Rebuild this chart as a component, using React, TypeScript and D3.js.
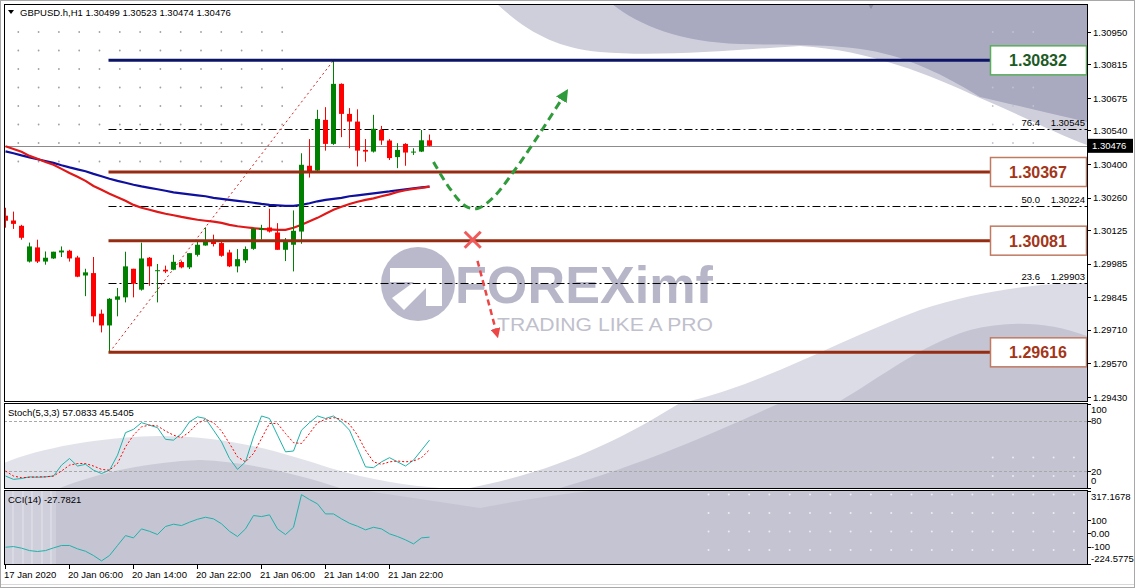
import React from 'react';
import * as d3 from 'd3';

const W = 1135;
const H = 588;

// GBPUSD H1 bars
const opens = [
  1.30185, 1.30165, 1.30143, 1.29994, 1.30053, 1.29994, 1.30007, 1.30032, 1.30039, 1.30011,
  1.29936, 1.29946, 1.29777, 1.29728, 1.29835, 1.29845, 1.29964, 1.29877, 1.30010, 1.29957,
  1.29960, 1.29960, 1.29992, 1.29970, 1.30022, 1.30061, 1.30085, 1.30071, 1.30032, 1.29974,
  1.29999, 1.30047, 1.30126, 1.30136, 1.30115, 1.30043, 1.30064, 1.30119, 1.30393, 1.30373,
  1.30584, 1.30484, 1.30734, 1.30609, 1.30577, 1.30459, 1.30452, 1.30542, 1.30498, 1.30429,
  1.30484, 1.30448, 1.30452, 1.30499,
];
const highs = [
  1.30218, 1.30202, 1.30147, 1.30073, 1.30085, 1.30036, 1.30035, 1.30057, 1.30043, 1.30018,
  1.29964, 1.30013, 1.29794, 1.29842, 1.29884, 1.30035, 1.29964, 1.30073, 1.30013, 1.29984,
  1.29977, 1.30022, 1.29998, 1.30029, 1.30077, 1.30136, 1.30106, 1.30081, 1.30043, 1.30046,
  1.30057, 1.30133, 1.30147, 1.30214, 1.30154, 1.30092, 1.30207, 1.30445, 1.30504, 1.30626,
  1.30637, 1.30832, 1.30736, 1.30633, 1.30628, 1.30504, 1.30605, 1.30559, 1.30504, 1.30487,
  1.30487, 1.30466, 1.30542, 1.30523,
];
const lows = [
  1.30135, 1.30130, 1.30085, 1.29990, 1.29988, 1.29981, 1.30005, 1.30013, 1.29994, 1.29929,
  1.29850, 1.29741, 1.29699, 1.29616, 1.29766, 1.29824, 1.29845, 1.29873, 1.29893, 1.29824,
  1.29946, 1.29958, 1.29966, 1.29963, 1.30015, 1.30060, 1.30057, 1.30014, 1.29971, 1.29949,
  1.29988, 1.30043, 1.30085, 1.30115, 1.30043, 1.29996, 1.29953, 1.30068, 1.30344, 1.30370,
  1.30456, 1.30480, 1.30512, 1.30466, 1.30390, 1.30410, 1.30448, 1.30480, 1.30417, 1.30383,
  1.30393, 1.30438, 1.30450, 1.30474,
];
const closes = [
  1.30164, 1.30151, 1.30093, 1.30057, 1.29994, 1.30010, 1.30035, 1.30040, 1.30007, 1.29931,
  1.29949, 1.29766, 1.29728, 1.29839, 1.29849, 1.29974, 1.29902, 1.30007, 1.29974, 1.29958,
  1.29953, 1.29993, 1.29970, 1.30029, 1.30064, 1.30078, 1.30067, 1.30018, 1.29974, 1.30004,
  1.30046, 1.30130, 1.30133, 1.30119, 1.30043, 1.30081, 1.30122, 1.30397, 1.30365, 1.30588,
  1.30484, 1.30734, 1.30609, 1.30577, 1.30456, 1.30452, 1.30547, 1.30498, 1.30425, 1.30459,
  1.30448, 1.30452, 1.30499, 1.30476,
];

const maRed = [
  1.30474, 1.30463, 1.30451, 1.30434, 1.30422, 1.30409, 1.30397, 1.30380, 1.30363, 1.30347,
  1.30330, 1.30309, 1.30293, 1.30276, 1.30262, 1.30247, 1.30230, 1.30218, 1.30210, 1.30201,
  1.30193, 1.30187, 1.30180, 1.30174, 1.30168, 1.30164, 1.30160, 1.30155, 1.30147, 1.30141,
  1.30137, 1.30133, 1.30130, 1.30128, 1.30126, 1.30126, 1.30135, 1.30147, 1.30162, 1.30176,
  1.30193, 1.30210, 1.30222, 1.30234, 1.30243, 1.30251, 1.30257, 1.30266, 1.30274, 1.30284,
  1.30291, 1.30297, 1.30301, 1.30306,
];
const maBlue = [
  1.30453, 1.30445, 1.30436, 1.30428, 1.30420, 1.30413, 1.30405, 1.30395, 1.30386, 1.30378,
  1.30370, 1.30359, 1.30349, 1.30339, 1.30330, 1.30322, 1.30314, 1.30307, 1.30301, 1.30295,
  1.30289, 1.30282, 1.30278, 1.30274, 1.30270, 1.30266, 1.30259, 1.30255, 1.30251, 1.30247,
  1.30243, 1.30239, 1.30234, 1.30230, 1.30228, 1.30226, 1.30226, 1.30230, 1.30237, 1.30245,
  1.30251, 1.30255, 1.30259, 1.30266, 1.30270, 1.30274, 1.30278, 1.30282, 1.30286, 1.30291,
  1.30295, 1.30299, 1.30303, 1.30306,
];

const stochMain = [
  14, 10, 11, 13, 12.5, 13, 14, 27, 35, 26, 28, 21, 17, 21, 39, 66, 70, 78, 75, 72,
  58, 57, 65, 79, 85, 83, 69, 55, 35, 22, 31, 61, 86, 83, 63, 43, 44, 69, 78, 86,
  83, 86, 79, 69, 47, 25, 24, 31, 36, 31, 26, 33, 45, 57.08,
];
const stochSignal = [
  20, 14, 12, 12.5, 13, 13, 14, 20, 27, 29, 29, 26, 22, 21, 29, 49, 63, 73, 75, 74,
  68, 63, 60, 67, 77, 82, 78, 68, 53, 37, 31, 41, 59, 77, 77, 65, 54, 53, 65, 78,
  82, 84, 82, 76, 63, 45, 31, 28, 31, 32, 31, 32, 36, 45.54,
];
const cci = [
  -103, -98, -110, -128, -135, -128, -108, -90, -90, -115, -133, -165, -205, -165, -90, -16, -33, 34, 16, -8,
  52, 69, 59, 84, 106, 121, 109, 72, 16, -23, 34, 134, 126, 139, 34, -8, 46, 290, 253, 221,
  146, 146, 109, 76, 54, 27, 46, 34, -3, -23, -48, -78, -33, -27.78,
];

const timeLabels = ['17 Jan 2020', '20 Jan 06:00', '20 Jan 14:00', '20 Jan 22:00', '21 Jan 06:00', '21 Jan 14:00', '21 Jan 22:00'];
const timeLabelBars = [0, 8, 16, 24, 32, 40, 48];
const priceTicks = [1.3095, 1.30815, 1.30675, 1.3054, 1.304, 1.3026, 1.30125, 1.29985, 1.29845, 1.2971, 1.2957, 1.2943];
const srLevels = [1.30832, 1.30367, 1.30081, 1.29616];
const fibLevels = [1.30545, 1.30224, 1.29903];
const fibNames = ['76.4', '50.0', '23.6'];
const stochTicks = [100, 80, 20, 0];
const cciMax = 317.1678;
const cciMin = -224.5775;
const cciTicks = [cciMax, 100, 0, -100, cciMin];
const cciTickLabels = ['317.1678', '100', '0.00', '-100', '-224.5775'];

// scenario drawing, in (bar, price)
const upPath: [number, number][] = [
  [53.5, 1.30409], [55.5, 1.303], [57.5, 1.30225], [59, 1.30215], [61, 1.30262],
  [63.5, 1.30368], [66, 1.30488], [69.9, 1.3069],
];
const downPath: [number, number][] = [[59, 1.29997], [61.4, 1.29695]];
const crossAt: [number, number] = [58.4, 1.30085];
const fibFrom: [number, number] = [13, 1.29616];
const fibTo: [number, number] = [41, 1.30832];

const FONT = '"Liberation Sans", Arial, sans-serif';
const L = 4;
const R = 1087;
const main = { top: 4, bottom: 401 };
const stp = { top: 403, bottom: 488 };
const ccp = { top: 490, bottom: 564 };

const x = d3.scaleLinear().domain([0, 53]).range([5.5, 429.5]);
const y = d3.scaleLinear().domain([1.2943, 1.3095]).range([397, 32]);
const yS = d3.scaleLinear().domain([0, 100]).range([487.7, 404.3]);
const yC = d3.scaleLinear().domain([cciMin, cciMax]).range([563.5, 491]);

const priceLine = d3.line<number>().x((_, i) => x(i)).y((d) => y(d));
const stochLine = d3.line<number>().x((_, i) => x(i)).y((d) => yS(d));
const cciLine = d3.line<number>().x((_, i) => x(i)).y((d) => yC(d));
const arrowLine = d3.line<[number, number]>().x((d) => x(d[0])).y((d) => y(d[1])).curve(d3.curveCatmullRom);

const gridX = d3.range(0, 53).map((k) => 18.3 + 20.3 * k);
const gridY = d3.range(0, 29).map((j) => 32 + 18.5 * j);
function dots(x0: number, x1: number, y0: number, y1: number) {
  const out: [number, number][] = [];
  gridX.filter((v) => v >= x0 && v <= x1).forEach((gx) =>
    gridY.filter((v) => v >= y0 && v <= y1).forEach((gy) => out.push([gx, gy])));
  return out;
}

export default function App() {
  const bars = d3.range(opens.length);
  const t = (v: number) => v.toFixed(5);

  return (
    <svg width={W} height={H} style={{ position: 'absolute', left: 0, top: 0, background: '#fff' }} fontFamily={FONT}>
      <defs>
        <clipPath id="mainClip"><rect x={L} y={main.top} width={R - L} height={main.bottom - main.top} /></clipPath>
        <clipPath id="stClip"><rect x={L} y={stp.top} width={R - L} height={stp.bottom - stp.top} /></clipPath>
        <clipPath id="ccClip"><rect x={L} y={ccp.top} width={R - L} height={ccp.bottom - ccp.top} /></clipPath>
        <marker id="gHead" viewBox="0 0 10 10" refX="5" refY="5" markerWidth="4.2" markerHeight="4.2" orient="auto" markerUnits="strokeWidth">
          <path d="M0,0 L10,5 L0,10 Z" fill="#2f9b3b" />
        </marker>
        <marker id="rHead" viewBox="0 0 10 10" refX="5" refY="5" markerWidth="4" markerHeight="4" orient="auto" markerUnits="strokeWidth">
          <path d="M0,0 L10,5 L0,10 Z" fill="#ec4646" />
        </marker>
      </defs>

      <rect x={0.5} y={0.5} width={W - 1} height={H - 1} fill="#fff" stroke="#a8a8a8" />

      {/* main panel background watermark */}
      <g clipPath="url(#mainClip)">
        <path d="M497,4 C525,30 555,48 600,52 C660,57 730,50 800,46 C870,50 930,75 980,98 C1020,115 1060,135 1087,145 L1087,4 Z" fill="#cfcfdc" />
        <path d="M612,4 C640,26 680,42 740,44 C800,46 850,42 900,58 C940,72 965,88 980,97 C1020,106 1055,115 1087,122 L1087,4 Z" fill="#a9a9c0" />
        <path d="M690,401 C760,385 840,340 920,310 C980,290 1040,283 1087,283 L1087,401 Z" fill="#dcdce6" />
        <path d="M840,401 C880,378 920,345 970,330 C1010,320 1050,322 1087,336 L1087,401 Z" fill="#c4c4d3" />
        {dots(10, 290, 25, 165).map(([a, b], k) => <circle key={'d' + k} cx={a} cy={b} r={0.9} fill="#a0a0a0" />)}
        {dots(985, 1045, 25, 145).map(([a, b], k) => <circle key={'e' + k} cx={a} cy={b} r={0.9} fill="#c2c2d2" />)}
        <path d="M868,4 L874,4 L871,9 Z" fill="#8a8aa0" />

        {/* logo */}
        <g>
          <circle cx={418} cy={284} r={37} fill="#b9b9cb" />
          <path d="M390,268 L442,268 L442,306 L426,306 L426,288 L404,310 L392,298 L414,282 L390,282 Z" fill="#ffffff" />
          <text x={455} y={303} fontSize={52} fontWeight="bold" fill="#b6b6c8" textLength={258} lengthAdjust="spacingAndGlyphs">FOREXimf</text>
          <text x={497} y={331} fontSize={18} fill="#c0c0cc" textLength={216} lengthAdjust="spacingAndGlyphs">TRADING LIKE A PRO</text>
        </g>

        {/* current price line */}
        <line x1={L} x2={R} y1={Math.round(y(closes[53])) + 0.5} y2={Math.round(y(closes[53])) + 0.5} stroke="#8c8c8c" strokeWidth={1} />

        {/* fibonacci */}
        {fibLevels.map((f, k) => (
          <g key={'f' + k}>
            <line x1={x(fibFrom[0]) - 1} x2={R} y1={Math.round(y(f)) + 0.5} y2={Math.round(y(f)) + 0.5} stroke="#000" strokeDasharray="8,3,2,3" />
            <text x={1040} y={y(f) - 3} fontSize={9.5} textAnchor="end" fill="#000">{fibNames[k]}</text>
            <text x={1085} y={y(f) - 3} fontSize={9.5} textAnchor="end" fill="#000">{t(f)}</text>
          </g>
        ))}
        <line x1={x(fibFrom[0])} y1={y(fibFrom[1])} x2={x(fibTo[0])} y2={y(fibTo[1])} stroke="#d02020" strokeWidth={1} strokeDasharray="2,3" />

        {/* moving averages */}
        <path d={priceLine(maBlue) || ''} fill="none" stroke="#10109e" strokeWidth={2.2} />
        <path d={priceLine(maRed) || ''} fill="none" stroke="#e01818" strokeWidth={2.2} />

        {/* candles */}
        {bars.map((i) => {
          const up = closes[i] >= opens[i];
          const col = up ? '#008000' : '#ff0000';
          const top = y(Math.max(opens[i], closes[i]));
          const bot = y(Math.min(opens[i], closes[i]));
          return (
            <g key={'c' + i}>
              <line x1={x(i)} x2={x(i)} y1={y(highs[i])} y2={y(lows[i])} stroke={col} strokeWidth={1} />
              <rect x={x(i) - 2.5} y={top} width={5} height={Math.max(1, bot - top)} fill={col} />
            </g>
          );
        })}

        {/* support / resistance */}
        {srLevels.map((lv, k) => (
          <line key={'s' + k} x1={x(fibFrom[0]) - 1} x2={990} y1={y(lv)} y2={y(lv)} stroke={k === 0 ? '#0c1466' : '#962c12'} strokeWidth={3} />
        ))}
        {srLevels.map((lv, k) => (
          <g key={'b' + k}>
            <rect x={990.5} y={y(lv) - 14.5} width={96} height={29} fill="#fff" stroke={k === 0 ? '#5aad5a' : '#c07a62'} strokeWidth={1.5} />
            <text x={1038} y={y(lv) + 6} fontSize={16} fontWeight="bold" textAnchor="middle" fill={k === 0 ? '#1d5a26' : '#a33518'}>{t(lv)}</text>
          </g>
        ))}

        {/* scenario */}
        <path d={arrowLine(upPath) || ''} fill="none" stroke="#2f9b3b" strokeWidth={3} strokeDasharray="8,5" markerEnd="url(#gHead)" />
        <g stroke="#f05a5a" strokeWidth={3}>
          <line x1={x(crossAt[0]) - 8} y1={y(crossAt[1]) - 8} x2={x(crossAt[0]) + 8} y2={y(crossAt[1]) + 8} />
          <line x1={x(crossAt[0]) + 8} y1={y(crossAt[1]) - 8} x2={x(crossAt[0]) - 8} y2={y(crossAt[1]) + 8} />
        </g>
        <path d={arrowLine(downPath) || ''} fill="none" stroke="#ec4646" strokeWidth={2.5} strokeDasharray="6,4" markerEnd="url(#rHead)" />
      </g>

      {/* header */}
      <path d="M8,10 L14,10 L11,14 Z" fill="#000" />
      <text x={20} y={16} fontSize={9.5} fill="#000">GBPUSD.h,H1  1.30499 1.30523 1.30474 1.30476</text>

      {/* price axis */}
      {priceTicks.map((p) => (
        <g key={'p' + p}>
          <line x1={R} x2={R + 4} y1={Math.round(y(p)) + 0.5} y2={Math.round(y(p)) + 0.5} stroke="#000" />
          <text x={R + 6} y={y(p) + 3.5} fontSize={9.5} fill="#000">{t(p)}</text>
        </g>
      ))}
      <rect x={R + 1} y={y(closes[53]) - 7} width={45} height={14} fill="#000" />
      <text x={R + 5} y={y(closes[53]) + 3.5} fontSize={9.5} fill="#fff">{t(closes[53])}</text>

      {/* stochastic */}
      <g clipPath="url(#stClip)">
        <path d="M470,488 C560,470 620,440 680,403 L1087,403 L1087,488 Z" fill="#d9d9e3" />
        <path d="M560,488 C650,462 720,430 780,403 L1087,403 L1087,488 Z" fill="#c3c3d2" />
        <path d="M4,463 C40,448 100,437 160,436 C230,436 280,452 330,468 C370,480 410,486 440,488 L4,488 Z" fill="#e2e2ea" />
        <path d="M60,488 C100,472 150,462 200,460 C250,462 300,475 340,488 Z" fill="#cbcbd7" />
        {dots(985, 1080, 450, 485).map(([a, b], k) => <circle key={'sd' + k} cx={a} cy={b} r={1} fill="#ececf2" />)}
        {[80, 20].map((v) => (
          <line key={'sl' + v} x1={L} x2={R} y1={Math.round(yS(v)) + 0.5} y2={Math.round(yS(v)) + 0.5} stroke="#a8a8a8" strokeDasharray="3,2" />
        ))}
        <path d={stochLine(stochMain) || ''} fill="none" stroke="#20b2aa" strokeWidth={1} />
        <path d={stochLine(stochSignal) || ''} fill="none" stroke="#ff0000" strokeWidth={1} strokeDasharray="2,2" />
      </g>
      <text x={8} y={416} fontSize={9.5} fill="#000">Stoch(5,3,3) 57.0833 45.5405</text>
      {stochTicks.map((v) => {
        const ty = v === 100 ? yS(v) + 9 : v === 0 ? yS(v) - 4 : yS(v) + 3.5;
        return (
          <g key={'st' + v}>
            <line x1={R} x2={R + 4} y1={Math.round(yS(v)) + 0.5} y2={Math.round(yS(v)) + 0.5} stroke="#000" />
            <text x={R + 4} y={ty} fontSize={9.5} fill="#000">{v}</text>
          </g>
        );
      })}

      {/* CCI */}
      <g clipPath="url(#ccClip)">
        <rect x={L} y={ccp.top} width={R - L} height={ccp.bottom - ccp.top} fill="#c4c4d3" />
        <path d="M4,490 L56,490 L56,564 L4,564 Z" fill="#cfcfdc" />
        {[13, 23, 32, 42, 51].map((v) => <line key={'v' + v} x1={v} x2={v} y1={ccp.top} y2={ccp.bottom} stroke="#e4e4ec" strokeWidth={1} />)}
        <path d="M360,490 C400,496 440,502 480,508 C520,500 560,494 600,490 Z" fill="#d0d0dc" />
        {dots(690, 1080, 490, 560).map(([a, b], k) => <circle key={'cd' + k} cx={a} cy={b} r={1} fill="#ececf2" />)}
        <path d={cciLine(cci) || ''} fill="none" stroke="#20b2aa" strokeWidth={1} />
      </g>
      <text x={8} y={503} fontSize={9.5} fill="#000">CCI(14) -27.7821</text>
      {cciTicks.map((v, k) => {
        const ty = k === 0 ? yC(v) + 9 : k === cciTicks.length - 1 ? yC(v) - 2 : yC(v) + 3.5;
        return (
          <g key={'ct' + k}>
            <line x1={R} x2={R + 4} y1={Math.round(yC(v)) + 0.5} y2={Math.round(yC(v)) + 0.5} stroke="#000" />
            <text x={R + 4} y={ty} fontSize={9.5} fill="#000">{cciTickLabels[k]}</text>
          </g>
        );
      })}

      {/* panel frames */}
      <rect x={L + 0.5} y={main.top + 0.5} width={R - L} height={main.bottom - main.top} fill="none" stroke="#000" />
      <rect x={L + 0.5} y={stp.top + 0.5} width={R - L} height={stp.bottom - stp.top} fill="none" stroke="#000" />
      <rect x={L + 0.5} y={ccp.top + 0.5} width={R - L} height={ccp.bottom - ccp.top} fill="none" stroke="#000" />

      {/* time axis */}
      {timeLabelBars.map((b, k) => (
        <g key={'t' + k}>
          <line x1={x(b)} x2={x(b)} y1={ccp.bottom + 1} y2={ccp.bottom + 5} stroke="#000" />
          <text x={x(b) - 1.5} y={578} fontSize={9.5} fill="#000">{timeLabels[k]}</text>
        </g>
      ))}
      <line x1={1} x2={W - 1} y1={584.5} y2={584.5} stroke="#d8d8d8" />
    </svg>
  );
}
